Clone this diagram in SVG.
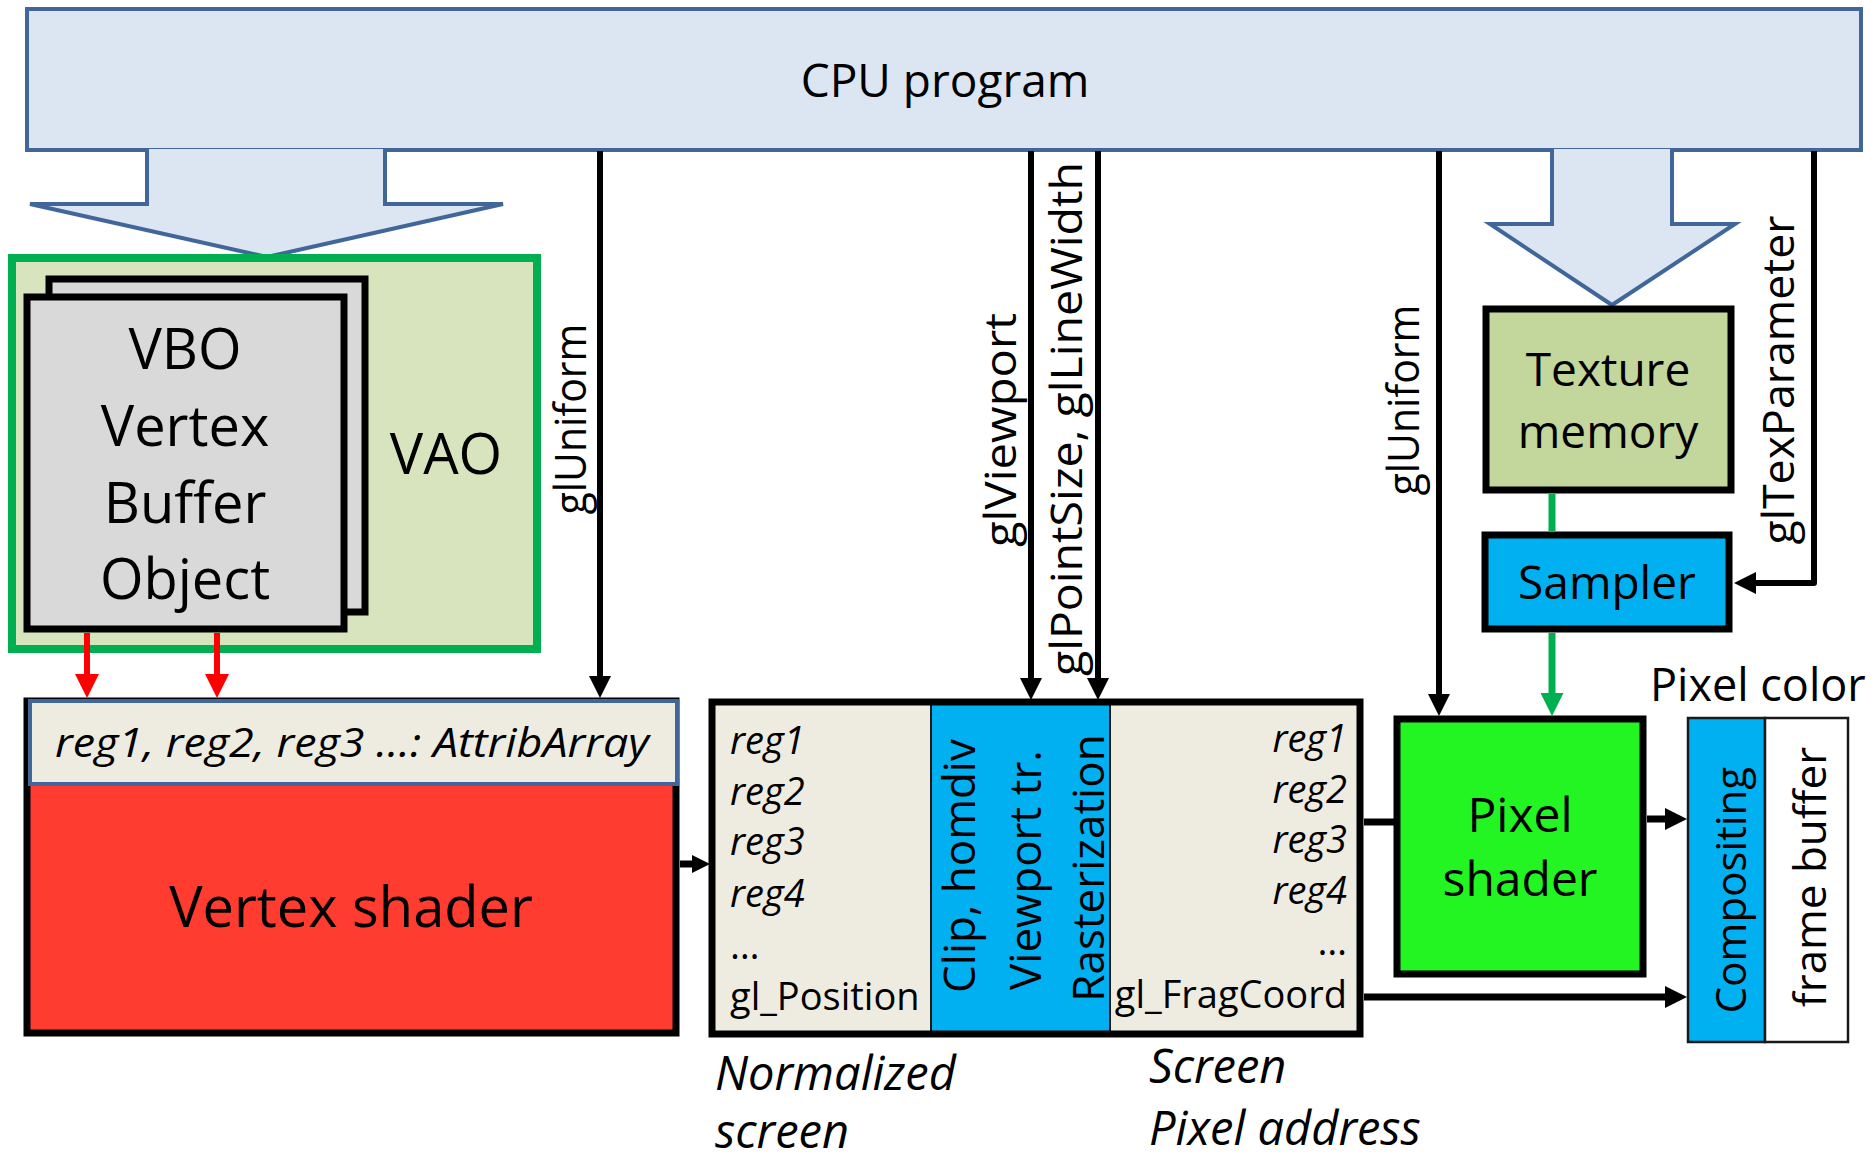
<svg xmlns="http://www.w3.org/2000/svg" width="1875" height="1158" viewBox="0 0 1875 1158">
<defs>
<style>
text{font-family:"Open Sans","Liberation Sans",sans-serif;fill:#000}
.big{font-size:56px;text-anchor:middle}
.mid{font-size:46px;text-anchor:middle}
.lbl{font-size:44px;text-anchor:middle}
.reg{font-size:38px}
.it{font-style:italic}
.cap{font-size:47px;font-style:italic}
.blk{stroke:#000;stroke-width:7;fill:none}
.conn{stroke:#000;stroke-width:6;fill:none}
.blockarrow{fill:#DCE6F2;stroke:#41679A;stroke-width:4;stroke-linejoin:miter}
</style>
<marker id="ah" viewBox="0 0 22 22" markerWidth="22" markerHeight="22" markerUnits="userSpaceOnUse" refX="1" refY="11" orient="auto"><path d="M0,0 L22,11 L0,22 z" fill="#000"/></marker>
<marker id="ahs" viewBox="0 0 18 18" markerWidth="18" markerHeight="18" markerUnits="userSpaceOnUse" refX="1" refY="9" orient="auto"><path d="M0,0 L18,9 L0,18 z" fill="#000"/></marker>
<marker id="ahr" viewBox="0 0 24 24" markerWidth="24" markerHeight="24" markerUnits="userSpaceOnUse" refX="1" refY="12" orient="auto"><path d="M0,0 L24,12 L0,24 z" fill="#FF0000"/></marker>
<marker id="ahg" viewBox="0 0 23 23" markerWidth="23" markerHeight="23" markerUnits="userSpaceOnUse" refX="1" refY="11.5" orient="auto"><path d="M0,0 L23,11.5 L0,23 z" fill="#00B050"/></marker>
</defs>

<g id="cpu">
<rect x="27" y="9" width="1834" height="141" fill="#DCE6F2" stroke="#41679A" stroke-width="4"/>
<text x="945" y="97" style="font-size:46px;text-anchor:middle">CPU program</text>
</g>

<g id="blockarrow-left">
<path class="blockarrow" d="M147,149 L147,204 L30,204 L267,257 L503,204 L385,204 L385,149"/>
</g>
<g id="blockarrow-right">
<path class="blockarrow" d="M1552,149 L1552,224 L1490,224 L1612,305 L1735,224 L1672,224 L1672,149"/>
</g>

<g id="vao">
<rect x="12" y="258" width="525" height="391" fill="#D7E4BD" stroke="#00B050" stroke-width="8"/>
<text class="big" x="446" y="474">VAO</text>
</g>

<g id="vbo">
<rect x="49" y="279" width="316" height="333" class="blk" style="fill:#D9D9D9"/>
<rect x="27" y="297" width="317" height="332" class="blk" style="fill:#D9D9D9"/>
<text class="big" x="185" y="369">VBO</text>
<text class="big" x="185" y="446">Vertex</text>
<text class="big" x="185" y="523">Buffer</text>
<text class="big" x="185" y="599">Object</text>
</g>

<g id="vertex-shader">
<rect x="27" y="701" width="649" height="332" class="blk" style="fill:#FF3C2F"/>
<rect x="30" y="701" width="647" height="83" fill="#EEECE1" stroke="#41679A" stroke-width="4"/>
<text class="it" x="352" y="757" style="font-size:40px;text-anchor:middle" textLength="594" lengthAdjust="spacingAndGlyphs">reg1, reg2, reg3 …: AttribArray</text>
<text class="big" x="351" y="927">Vertex shader</text>
</g>

<g id="raster">
<rect x="712" y="702" width="648" height="332" fill="#EEECE1"/>
<rect x="931" y="702" width="179" height="332" fill="#00B0F0" stroke="#1a1a1a" stroke-width="2"/>
<rect x="712" y="702" width="648" height="332" class="blk"/>
<text class="reg it" x="730" y="754">reg1</text>
<text class="reg it" x="730" y="805">reg2</text>
<text class="reg it" x="730" y="855">reg3</text>
<text class="reg it" x="730" y="907">reg4</text>
<text class="reg" x="730" y="959">…</text>
<text class="reg" x="730" y="1010">gl_Position</text>
<text class="reg it" x="1347" y="752" style="text-anchor:end">reg1</text>
<text class="reg it" x="1347" y="803" style="text-anchor:end">reg2</text>
<text class="reg it" x="1347" y="853" style="text-anchor:end">reg3</text>
<text class="reg it" x="1347" y="904" style="text-anchor:end">reg4</text>
<text class="reg" x="1347" y="955" style="text-anchor:end">…</text>
<text class="reg" x="1347" y="1008" style="text-anchor:end">gl_FragCoord</text>
<text style="font-size:44px;text-anchor:middle" transform="translate(975,866) rotate(-90)">Clip, homdiv</text>
<text style="font-size:44px;text-anchor:middle" transform="translate(1041,870) rotate(-90)">Viewport tr.</text>
<text style="font-size:44px;text-anchor:middle" transform="translate(1104,868) rotate(-90)">Rasterization</text>
</g>

<g id="texture-memory">
<rect x="1486" y="309" width="245" height="181" class="blk" style="fill:#C3D69B"/>
<text class="mid" x="1608" y="386">Texture</text>
<text class="mid" x="1608" y="448">memory</text>
</g>

<g id="sampler">
<rect x="1485" y="535" width="244" height="94" class="blk" style="fill:#00B0F0"/>
<text class="mid" x="1607" y="599">Sampler</text>
</g>

<g id="pixel-shader">
<rect x="1397" y="719" width="246" height="255" class="blk" style="fill:#22F522"/>
<text style="font-size:48px;text-anchor:middle" x="1520" y="832">Pixel</text>
<text style="font-size:48px;text-anchor:middle" x="1520" y="896">shader</text>
</g>

<g id="framebuffer">
<rect x="1688" y="718" width="77" height="324" fill="#00B0F0" stroke="#1a1a1a" stroke-width="2.5"/>
<rect x="1765" y="718" width="83" height="324" fill="#FFFFFF" stroke="#1a1a1a" stroke-width="2.5"/>
<text style="font-size:42px;text-anchor:middle" transform="translate(1746,890) rotate(-90)">Compositing</text>
<text style="font-size:44px;text-anchor:middle" transform="translate(1826,877) rotate(-90)">frame buffer</text>
</g>

<g id="labels">
<text style="font-size:45px" x="1650" y="701">Pixel color</text>
<text class="cap" x="715" y="1090">Normalized</text>
<text class="cap" x="715" y="1148">screen</text>
<text class="cap" x="1149" y="1083">Screen</text>
<text class="cap" x="1149" y="1145">Pixel address</text>
</g>

<g id="connectors">
<path class="conn" d="M600,151 L600,677" marker-end="url(#ah)"/>
<path class="conn" d="M1031,151 L1031,679" marker-end="url(#ah)"/>
<path class="conn" d="M1098,151 L1098,679" marker-end="url(#ah)"/>
<path class="conn" d="M1439,151 L1439,695" marker-end="url(#ah)"/>
<path class="conn" d="M1814,151 L1814,583 L1755,583" stroke-linejoin="round" marker-end="url(#ah)"/>
<path d="M87,633 L87,675" stroke="#FF0000" stroke-width="6" fill="none" marker-end="url(#ahr)"/>
<path d="M217,633 L217,675" stroke="#FF0000" stroke-width="6" fill="none" marker-end="url(#ahr)"/>
<path d="M1552,494 L1552,531" stroke="#00B050" stroke-width="7" fill="none"/>
<path d="M1552,633 L1552,694" stroke="#00B050" stroke-width="7" fill="none" marker-end="url(#ahg)"/>
<path d="M680,864 L693,864" stroke="#000" stroke-width="7" fill="none" marker-end="url(#ahs)"/>
<path d="M1364,822 L1394,822" stroke="#000" stroke-width="7" fill="none"/>
<path d="M1647,819 L1666,819" stroke="#000" stroke-width="7" fill="none" marker-end="url(#ah)"/>
<path d="M1364,997 L1666,997" stroke="#000" stroke-width="7" fill="none" marker-end="url(#ah)"/>
</g>

<g id="call-labels">
<text class="lbl" transform="translate(586,419) rotate(-90)" textLength="191" lengthAdjust="spacingAndGlyphs">glUniform</text>
<text class="lbl" transform="translate(1016,430) rotate(-90)" textLength="234" lengthAdjust="spacingAndGlyphs">glViewport</text>
<text class="lbl" transform="translate(1082,419) rotate(-90)" textLength="514" lengthAdjust="spacingAndGlyphs">glPointSize, glLineWidth</text>
<text class="lbl" transform="translate(1419,400) rotate(-90)" textLength="191" lengthAdjust="spacingAndGlyphs">glUniform</text>
<text class="lbl" transform="translate(1794,380) rotate(-90)" textLength="329" lengthAdjust="spacingAndGlyphs">glTexParameter</text>
</g>
</svg>
